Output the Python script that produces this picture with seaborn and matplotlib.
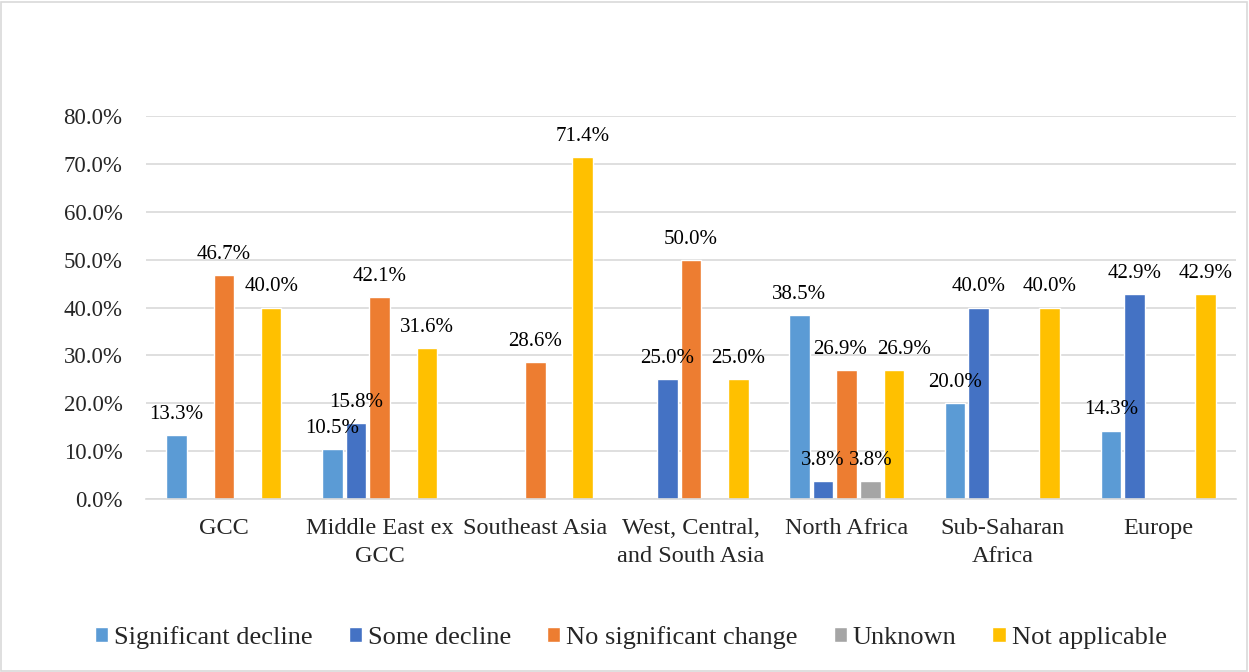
import matplotlib
matplotlib.use('Agg')
import matplotlib.pyplot as plt
import matplotlib.patches as mpatches
import seaborn as sns
import pandas as pd

# Chart data (percent of respondents)
regions = ['GCC', 'Middle East ex\nGCC', 'Southeast Asia', 'West, Central,\nand South Asia',
           'North Africa', 'Sub-Saharan\nAfrica', 'Europe']
series = ['Significant decline', 'Some decline', 'No significant change', 'Unknown', 'Not applicable']
significant_decline = [13.3, 10.5, 0.0, 0.0, 38.5, 20.0, 14.3]
some_decline = [0.0, 15.8, 0.0, 25.0, 3.8, 40.0, 42.9]
no_significant_change = [46.7, 42.1, 28.6, 50.0, 26.9, 0.0, 0.0]
unknown = [0.0, 0.0, 0.0, 0.0, 3.8, 0.0, 0.0]
not_applicable = [40.0, 31.6, 71.4, 25.0, 26.9, 40.0, 42.9]
colors = ['#5B9BD5', '#4472C4', '#ED7D31', '#A5A5A5', '#FFC000']

values = [significant_decline, some_decline, no_significant_change, unknown, not_applicable]
rows = []
for name, vals in zip(series, values):
    for reg, v in zip(regions, vals):
        rows.append({'region': reg, 'series': name, 'value': v})
df = pd.DataFrame(rows)

sns.set_style('white')
plt.rcParams['font.family'] = ['Liberation Serif', 'DejaVu Serif']
plt.rcParams['font.size'] = 15

fig = plt.figure(figsize=(12.49, 6.72), dpi=100)
ax = fig.add_axes([146 / 1249, 173 / 672, 1090 / 1249, 383 / 672])

sns.barplot(data=df, x='region', y='value', hue='series', hue_order=series,
            order=regions, palette=colors, width=0.76, gap=0.13,
            saturation=1, legend=True, ax=ax)

# Data labels only for non-zero values; Excel nudged the crowded North Africa ones
for i, cont in enumerate(ax.containers):
    labels = [f"{b.get_height():.1f}%" if b.get_height() > 0 else '' for b in cont]
    texts = ax.bar_label(cont, labels=labels, padding=8, fontsize=15, color='#000000')
    if i == 2:
        texts[4].xyann = (-5, 8)
    if i == 4:
        texts[4].xyann = (7, 8)

ax.set_ylim(0, 80)
ax.set_yticks(range(0, 81, 10))
ax.set_yticklabels([f"{t:.1f}%" for t in range(0, 81, 10)])
ax.yaxis.grid(True, color='#D9D9D9', linewidth=1.2)
ax.set_axisbelow(True)
for side in ['top', 'right', 'left']:
    ax.spines[side].set_visible(False)
ax.spines['bottom'].set_color('#D9D9D9')
ax.spines['bottom'].set_linewidth(1.2)
ax.tick_params(axis='y', length=0, pad=17, labelsize=16.5)
ax.tick_params(axis='x', length=0, pad=14, labelsize=17.5)
for lbl in ax.get_xticklabels():
    lbl.set_linespacing(1.4)
ax.set_xlabel('')
ax.set_ylabel('')

handles, labs = ax.get_legend_handles_labels()
ax.legend_.remove()
fig.legend(handles, labs, loc='center', bbox_to_anchor=(0.505, 0.052), ncol=5,
           frameon=False, fontsize=19, handlelength=0.5, handleheight=0.5,
           handletextpad=0.23, columnspacing=1.36)

fig.patches.append(mpatches.Rectangle((0.001, 0.002), 0.997, 0.995, transform=fig.transFigure,
                                      fill=False, edgecolor='#D9D9D9', linewidth=1.2))

fig.savefig('out.png', dpi=100)
